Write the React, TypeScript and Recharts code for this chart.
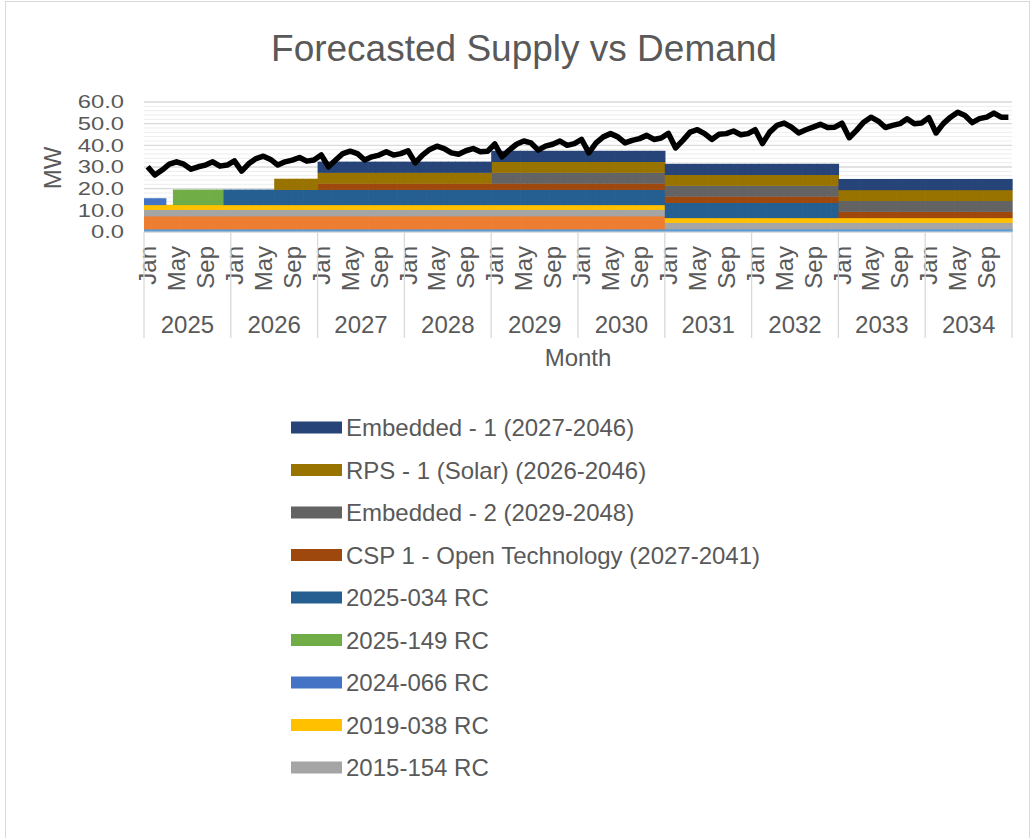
import React from 'react';
import { ComposedChart, Bar, Line, XAxis, YAxis, CartesianGrid } from 'recharts';

const FONT = '"Liberation Sans", Arial, Helvetica, sans-serif';
const TEXT = '#595959';

// ---------- categories ----------
const MONTHS = ['Jan', 'Feb', 'Mar', 'Apr', 'May', 'Jun', 'Jul', 'Aug', 'Sep', 'Oct', 'Nov', 'Dec'];
const YEARS = [2025, 2026, 2027, 2028, 2029, 2030, 2031, 2032, 2033, 2034];
const SHOWN_MONTHS = ['Jan', 'May', 'Sep'];

// ---------- tick labels ----------
const MW_TICKS = [0, 10, 20, 30, 40, 50, 60];
const MW_MINOR = [2, 4, 6, 8, 12, 14, 16, 18, 22, 24, 26, 28, 32, 34, 36, 38, 42, 44, 46, 48, 52, 54, 56, 58];

// ---------- demand (MW), Jan..Dec per year ----------
const demand2025 = [30.1, 26.3, 28.6, 31.3, 32.4, 31.3, 29.0, 30.1, 30.9, 32.4, 30.4, 30.9];
const demand2026 = [32.8, 28.1, 31.6, 33.9, 35.0, 33.5, 30.9, 32.4, 33.2, 34.4, 32.7, 33.2];
const demand2027 = [35.6, 30.1, 33.2, 36.2, 37.3, 36.2, 33.2, 34.7, 35.5, 37.0, 35.5, 36.2];
const demand2028 = [37.5, 31.9, 35.5, 38.1, 39.6, 38.5, 36.5, 35.9, 37.5, 38.5, 37.0, 37.3];
const demand2029 = [40.6, 34.7, 37.8, 40.5, 42.0, 41.1, 37.8, 39.6, 40.5, 42.0, 40.0, 40.8];
const demand2030 = [42.7, 36.5, 41.1, 43.9, 45.4, 43.9, 41.1, 42.3, 43.1, 44.6, 42.7, 43.4];
const demand2031 = [45.5, 38.8, 42.3, 46.1, 47.2, 45.4, 42.7, 45.1, 45.4, 46.6, 44.9, 45.4];
const demand2032 = [47.2, 40.8, 46.1, 49.2, 50.3, 48.4, 45.7, 47.2, 48.4, 49.7, 48.2, 48.4];
const demand2033 = [50.2, 43.5, 46.9, 50.7, 53.0, 51.2, 48.2, 49.2, 50.0, 52.3, 50.0, 50.3];
const demand2034 = [52.8, 45.7, 50.0, 53.0, 55.3, 53.8, 50.5, 52.3, 53.0, 54.9, 53.0, 53.0];
const DEMAND_BY_YEAR = [demand2025, demand2026, demand2027, demand2028, demand2029, demand2030, demand2031, demand2032, demand2033, demand2034];

// ---------- supply resources (MW) as contract periods ----------
const lightBlueRC = [{ from: '2025-01', to: '2034-12', mw: 1.2 }];
const orangeRC = [{ from: '2025-01', to: '2030-12', mw: 6.0 }];
const rc2015_154 = [{ from: '2025-01', to: '2034-12', mw: 3.0 }];
const rc2019_038 = [{ from: '2025-01', to: '2034-12', mw: 2.2 }];
const rc2024_066 = [{ from: '2025-01', to: '2025-03', mw: 3.0 }];
const rc2025_149 = [{ from: '2025-05', to: '2025-11', mw: 7.0 }];
const rc2025_034 = [{ from: '2025-12', to: '2032-12', mw: 7.0 }];
const csp1 = [{ from: '2027-01', to: '2034-12', mw: 2.9 }];
const embedded2 = [{ from: '2029-01', to: '2034-12', mw: 5.0 }];
const rps1 = [{ from: '2026-07', to: '2034-12', mw: 5.0 }];
const embedded1 = [{ from: '2027-01', to: '2034-12', mw: 5.0 }];

// stacking order bottom -> top
const SERIES = [
  { key: 'lightBlueRC', name: 'RC (unlabelled 1)', blocks: lightBlueRC, inLegend: false },
  { key: 'orangeRC', name: 'RC (unlabelled 2)', blocks: orangeRC, inLegend: false },
  { key: 'rc2015_154', name: '2015-154 RC', blocks: rc2015_154, inLegend: true },
  { key: 'rc2019_038', name: '2019-038 RC', blocks: rc2019_038, inLegend: true },
  { key: 'rc2024_066', name: '2024-066 RC', blocks: rc2024_066, inLegend: true },
  { key: 'rc2025_149', name: '2025-149 RC', blocks: rc2025_149, inLegend: true },
  { key: 'rc2025_034', name: '2025-034 RC', blocks: rc2025_034, inLegend: true },
  { key: 'csp1', name: 'CSP 1 - Open Technology (2027-2041)', blocks: csp1, inLegend: true },
  { key: 'embedded2', name: 'Embedded - 2 (2029-2048)', blocks: embedded2, inLegend: true },
  { key: 'rps1', name: 'RPS - 1 (Solar) (2026-2046)', blocks: rps1, inLegend: true },
  { key: 'embedded1', name: 'Embedded - 1 (2027-2046)', blocks: embedded1, inLegend: true },
];

const COLORS: Record<string, string> = {
  lightBlueRC: '#5B9BD5',
  orangeRC: '#ED7D31',
  rc2015_154: '#A5A5A5',
  rc2019_038: '#FFC000',
  rc2024_066: '#4472C4',
  rc2025_149: '#70AD47',
  rc2025_034: '#255E91',
  csp1: '#9E480E',
  embedded2: '#636363',
  rps1: '#997300',
  embedded1: '#264478',
};

// ---------- build table ----------
const ym = (s: string) => {
  const [y, m] = s.split('-').map(Number);
  return (y - YEARS[0]) * 12 + (m - 1);
};

const data: any[] = [];
YEARS.forEach((year, yi) => {
  MONTHS.forEach((month, mi) => {
    const idx = yi * 12 + mi;
    const row: any = { idx, year, month, demand: DEMAND_BY_YEAR[yi][mi] };
    SERIES.forEach((s) => {
      let v = 0;
      s.blocks.forEach((b) => {
        if (idx >= ym(b.from) && idx <= ym(b.to)) v += b.mw;
      });
      row[s.key] = v;
    });
    data.push(row);
  });
});

// ---------- layout ----------
const W = 1036;
const H = 838;
const M = { top: 102, right: 24, bottom: 476, left: 0 };
const Y_AXIS_W = 144;
const X_AXIS_H = 130;
const PLOT_W = W - M.left - M.right - Y_AXIS_W;

const YTick = (props: any) => {
  const { x, y, payload } = props;
  return (
    <text
      x={0}
      y={0}
      transform={`translate(${x - 20},${y}) scale(1.25,1)`}
      textAnchor="end"
      dominantBaseline="central"
      fontSize={19}
      fill={TEXT}
      fontFamily={FONT}
    >
      {Number(payload.value).toFixed(1)}
    </text>
  );
};

const XTick = (props: any) => {
  const { x, y, payload } = props;
  const i = Number(payload.value);
  const row = data[i];
  if (!row) return null;
  const half = payload.offset ? payload.offset : PLOT_W / data.length / 2;
  const els: any[] = [];
  if (SHOWN_MONTHS.includes(row.month)) {
    els.push(
      <text
        key="m"
        x={0}
        y={0}
        transform={`translate(${x},${y + 14}) rotate(-90)`}
        textAnchor="end"
        dominantBaseline="central"
        fontSize={24}
        fill={TEXT}
        fontFamily={FONT}
      >
        {row.month}
      </text>
    );
  }
  if (i % 12 === 0) {
    els.push(<line key="s" x1={x - half} x2={x - half} y1={y} y2={y + 106} stroke="#d9d9d9" strokeWidth={1.3} />);
  }
  if (i === data.length - 1) {
    els.push(<line key="e" x1={x + half} x2={x + half} y1={y} y2={y + 106} stroke="#d9d9d9" strokeWidth={1.3} />);
  }
  if (i % 12 === 6) {
    els.push(
      <text key="y" x={x - half} y={y + 92} textAnchor="middle" dominantBaseline="central" fontSize={24} fill={TEXT} fontFamily={FONT}>
        {row.year}
      </text>
    );
  }
  return <g>{els}</g>;
};

// bars drawn slightly wider so neighbouring months of one series join without seams
const SolidBar = (props: any) => {
  const { x, y, width, height, fill } = props;
  if (!height || height <= 0 || !width) return null;
  return <rect x={x} y={y - 0.4} width={width + 0.9} height={height + 0.4} fill={fill} />;
};

const legendItems = SERIES.filter((s) => s.inLegend).slice().reverse();

export default function App() {
  return (
    <div style={{ position: 'absolute', left: 0, top: 0, width: W, height: H, background: '#fff', overflow: 'hidden' }}>
      <div
        style={{
          position: 'absolute',
          left: 5,
          top: 1,
          width: 1025,
          height: 860,
          border: '1px solid #d9d9d9',
          boxSizing: 'border-box',
        }}
      />
      <div style={{ position: 'absolute', left: 0, top: 0 }}>
        <ComposedChart width={W} height={H} data={data} margin={M} barCategoryGap={0} barGap={0}>
          <CartesianGrid vertical={false} horizontalValues={MW_MINOR} stroke="#ededed" strokeWidth={1} />
          <CartesianGrid vertical={false} horizontalValues={MW_TICKS} stroke="#d9d9d9" strokeWidth={1.3} />
          <XAxis
            dataKey="idx"
            type="category"
            interval={0}
            tickLine={false}
            tickSize={0}
            tickMargin={0}
            height={X_AXIS_H}
            axisLine={{ stroke: '#d9d9d9' }}
            tick={<XTick />}
          />
          <YAxis
            domain={[0, 60]}
            ticks={MW_TICKS}
            interval={0}
            width={Y_AXIS_W}
            axisLine={false}
            tickLine={false}
            tickSize={0}
            tickMargin={0}
            tick={<YTick />}
          />
          {SERIES.map((s) => (
            <Bar
              key={s.key}
              dataKey={s.key}
              name={s.name}
              stackId="supply"
              fill={COLORS[s.key]}
              shape={<SolidBar />}
              isAnimationActive={false}
            />
          ))}
          <Line
            dataKey="demand"
            name="Demand"
            type="linear"
            stroke="#000000"
            strokeWidth={5.5}
            strokeLinejoin="round"
            dot={false}
            activeDot={false}
            isAnimationActive={false}
          />
        </ComposedChart>
      </div>
      <svg width={W} height={H} style={{ position: 'absolute', left: 0, top: 0, pointerEvents: 'none' }}>
        <text x={524} y={61} textAnchor="middle" fontSize={37} fill={TEXT} fontFamily={FONT}>
          Forecasted Supply vs Demand
        </text>
        <text
          x={0}
          y={0}
          transform="translate(52,168) rotate(-90)"
          textAnchor="middle"
          dominantBaseline="central"
          fontSize={24}
          fill={TEXT}
          fontFamily={FONT}
        >
          MW
        </text>
        <text x={578} y={357} textAnchor="middle" dominantBaseline="central" fontSize={24} fill={TEXT} fontFamily={FONT}>
          Month
        </text>
        {legendItems.map((s, k) => {
          const cy = 427.5 + k * 42.5;
          return (
            <g key={s.key}>
              <rect x={291} y={cy - 6} width={51} height={12} fill={COLORS[s.key]} />
              <text x={346} y={cy} dominantBaseline="central" fontSize={24} fill={TEXT} fontFamily={FONT}>
                {s.name}
              </text>
            </g>
          );
        })}
      </svg>
    </div>
  );
}
